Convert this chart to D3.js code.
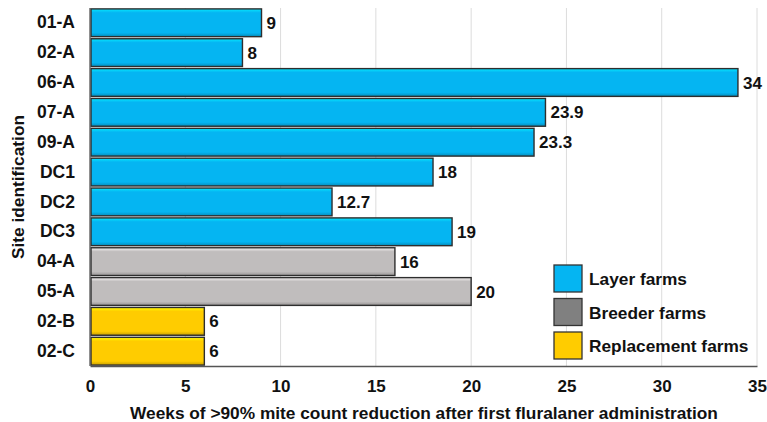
<!DOCTYPE html>
<html>
<head>
<script src="https://cdn.jsdelivr.net/npm/d3@7"></script>
<style>
  body { margin: 0; background: #fff; }
  text { font-family: "Liberation Sans", Arial, sans-serif; font-weight: bold; fill: #111; }
</style>
</head>
<body>
<svg id="chart" width="767" height="422"></svg>
<script>
// data
var sites  = ["01-A", "02-A", "06-A", "07-A", "09-A", "DC1", "DC2", "DC3", "04-A", "05-A", "02-B", "02-C"];
var weeks  = [9, 8, 34, 23.9, 23.3, 18, 12.7, 19, 16, 20, 6, 6];
var labels = ["9", "8", "34", "23.9", "23.3", "18", "12.7", "19", "16", "20", "6", "6"];
var groups = ["Layer", "Layer", "Layer", "Layer", "Layer", "Layer", "Layer", "Layer", "Breeder", "Breeder", "Replacement", "Replacement"];
var xTicks = [0, 5, 10, 15, 20, 25, 30, 35];

var legendNames = ["Layer farms", "Breeder farms", "Replacement farms"];
var legendKeys  = ["Layer", "Breeder", "Replacement"];

var barFill  = { Layer: "#05B5F2", Breeder: "#C0BDBD", Replacement: "#FFCC00" };
var swatchFill = { Layer: "#05B5F2", Breeder: "#808080", Replacement: "#FFCC00" };

var svg = d3.select("#chart");
var pLeft = 90, pRight = 757, pTop = 8, pBottom = 366;

var x = d3.scaleLinear().domain([0, 35]).range([pLeft, pRight]);
var y = d3.scaleBand().domain(sites).range([pTop, pBottom]).paddingInner(0.07).paddingOuter(0.03);

// gradients for a little bevel look
var defs = svg.append("defs");
legendKeys.forEach(function(k) {
  var g = defs.append("linearGradient").attr("id", "g" + k)
      .attr("x1", 0).attr("x2", 0).attr("y1", 0).attr("y2", 1);
  var c = d3.color(barFill[k]);
  g.append("stop").attr("offset", "0%").attr("stop-color", c.brighter(0.7));
  g.append("stop").attr("offset", "14%").attr("stop-color", c);
  g.append("stop").attr("offset", "86%").attr("stop-color", c);
  g.append("stop").attr("offset", "100%").attr("stop-color", c.darker(0.7));
});

// gridlines
svg.append("g").selectAll("line").data(xTicks.slice(1)).join("line")
  .attr("x1", d => x(d)).attr("x2", d => x(d))
  .attr("y1", pTop).attr("y2", pBottom)
  .attr("stroke", "#dcdcdc").attr("stroke-width", 1);

// bars
var data = sites.map((s, i) => ({ site: s, v: weeks[i], lab: labels[i], g: groups[i] }));
svg.append("g").selectAll("rect").data(data).join("rect")
  .attr("x", x(0) + 1)
  .attr("y", d => y(d.site))
  .attr("width", d => x(d.v) - x(0) - 1)
  .attr("height", y.bandwidth())
  .attr("fill", d => "url(#g" + d.g + ")")
  .attr("stroke", "#2e2e2e").attr("stroke-width", 1.4);

// value labels
svg.append("g").selectAll("text").data(data).join("text")
  .attr("x", d => x(d.v) + 5)
  .attr("y", d => y(d.site) + y.bandwidth() / 2)
  .attr("dy", "0.36em")
  .style("font-size", "17px")
  .text(d => d.lab);

// axes
var xAxis = svg.append("g").attr("transform", "translate(0," + pBottom + ")")
  .call(d3.axisBottom(x).tickValues(xTicks).tickSize(0).tickPadding(14));
xAxis.select(".domain").attr("stroke", "#555").attr("stroke-width", 1.3);
xAxis.selectAll("text").style("font-size", "17px").attr("fill", "#111")
  .style("font-family", "'Liberation Sans', Arial, sans-serif").style("font-weight", "bold");

var yAxis = svg.append("g").attr("transform", "translate(" + pLeft + ",0)")
  .call(d3.axisLeft(y).tickSize(0).tickPadding(15));
yAxis.select(".domain").attr("stroke", "#555").attr("stroke-width", 1.3)
  .attr("d", "M0," + pTop + "V" + pBottom);
yAxis.selectAll("text").style("font-size", "17.5px").attr("fill", "#111")
  .style("font-family", "'Liberation Sans', Arial, sans-serif").style("font-weight", "bold");

// titles
svg.append("text").attr("x", 424).attr("y", 419).attr("text-anchor", "middle")
  .style("font-size", "17.3px").text("Weeks of >90% mite count reduction after first fluralaner administration");
svg.append("text").attr("transform", "translate(24,187) rotate(-90)").attr("text-anchor", "middle")
  .style("font-size", "17.3px").text("Site identification");

// legend
var leg = svg.append("g").attr("transform", "translate(554,265)");
var li = leg.selectAll("g").data(legendKeys).join("g")
  .attr("transform", (d, i) => "translate(0," + i * 33.5 + ")");
li.append("rect").attr("width", 28).attr("height", 27)
  .attr("fill", d => swatchFill[d]).attr("stroke", "#333").attr("stroke-width", 1.3);
li.append("text").attr("x", 35).attr("y", 14).attr("dy", "0.36em")
  .style("font-size", "17.3px").text((d, i) => legendNames[i]);
</script>
</body>
</html>
